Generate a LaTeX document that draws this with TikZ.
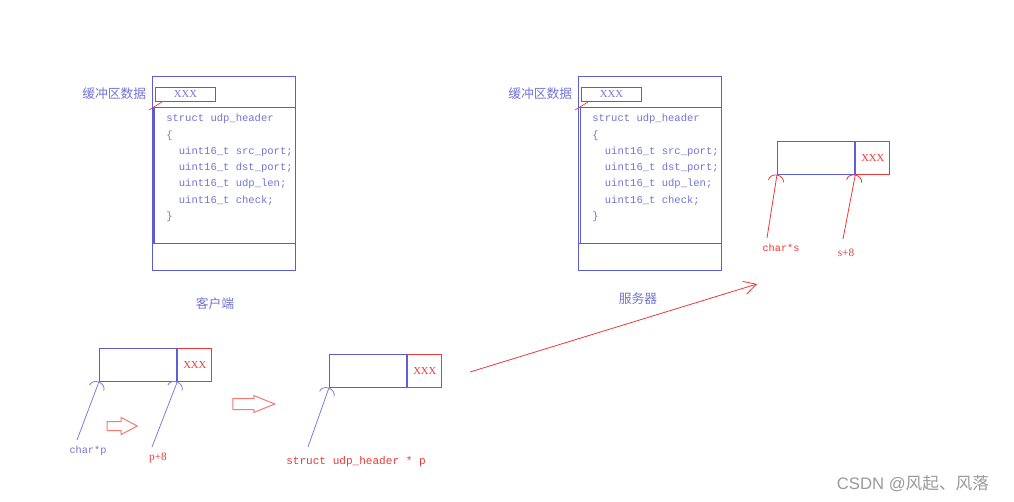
\documentclass[tikz,border=0pt]{standalone}
\usepackage{fontspec}
\setmainfont{Liberation Serif}
\setmonofont{Liberation Mono}
\newfontfamily\cjk{Noto Sans CJK SC}
\newfontfamily\wmfont{Liberation Sans}
\usetikzlibrary{arrows.meta, positioning, shapes.arrows}
\definecolor{penblue}{HTML}{5C5CD6}
\definecolor{inkblue}{HTML}{7474D4}
\definecolor{penred}{HTML}{F03838}
\definecolor{softred}{HTML}{F87878}
\definecolor{wmgray}{HTML}{9A9A9A}

\tikzset{
  frame/.style={draw=penblue, line width=0.75pt},
  tagbox/.style={draw=penblue, line width=0.75pt, minimum width=45pt, minimum height=10.5pt, inner sep=0pt, text=inkblue, font=\fontsize{8}{9}\selectfont},
  cnlabel/.style={text=inkblue, font=\fontsize{9.6}{11}\selectfont\cjk},
  codetext/.style={text=inkblue, align=left, inner sep=0pt, font=\fontsize{7.9}{12.2}\selectfont\ttfamily},
  bodycell/.style={draw=penblue, line width=0.75pt, minimum width=58pt, minimum height=24.5pt, inner sep=0pt},
  datacell/.style={draw=penred, line width=0.75pt, minimum width=25.5pt, minimum height=24.5pt, inner sep=0pt, text=penred, font=\fontsize{8}{9}\selectfont},
  ptrblue/.style={penblue!80, line width=0.6pt, -{Arc Barb[length=5pt, width=12pt]}},
  ptrred/.style={penred, line width=0.6pt, -{Arc Barb[length=5pt, width=12pt]}},
  hollowarrow/.style={single arrow, draw=softred, line width=0.75pt, inner xsep=0pt},
}

\begin{document}
\begin{tikzpicture}[x=0.75pt, y=-0.75pt]

% Background
\fill[white] (0,0) rectangle (1014,502);
\useasboundingbox (0,0) rectangle (1014,502);

% --- Client buffer ---
\draw[frame] (152,77) rectangle (295,271);
\draw[frame] (152,108) -- (295,108);
\draw[frame] (152,244) -- (295,244);
\draw[penblue, line width=1.6pt] (153.5,108) -- (153.5,244);
\node[tagbox, anchor=north west] (ctag) at (155,87) {XXX};
\node[cnlabel, anchor=east] (clbl) at (151,94) {缓冲区数据};
\draw[penred, line width=0.5pt] (ctag.south west) ++(7,0) -- ++(-13,8);
\node[codetext, anchor=north west] (ccode) at (166,114) {struct udp\_header\\\{\\~~uint16\_t src\_port;\\~~uint16\_t dst\_port;\\~~uint16\_t udp\_len;\\~~uint16\_t check;\\\}};
\node[cnlabel] (cside) at (215,304) {客户端};

% --- Server buffer ---
\draw[frame] (578,77) rectangle (721,271);
\draw[frame] (578,108) -- (721,108);
\draw[frame] (578,244) -- (721,244);
\draw[frame] (580,108) -- (580,244);
\node[tagbox, anchor=north west] (stag) at (581,87) {XXX};
\node[cnlabel, anchor=east] (slbl) at (577,94) {缓冲区数据};
\draw[penred, line width=0.5pt] (stag.south west) ++(7,0) -- ++(-13,8);
\node[codetext, anchor=north west] (scode) at (592,114) {struct udp\_header\\\{\\~~uint16\_t src\_port;\\~~uint16\_t dst\_port;\\~~uint16\_t udp\_len;\\~~uint16\_t check;\\\}};
\node[cnlabel] (sside) at (638,299) {服务器};

% --- char* view ---
\node[bodycell, anchor=north west] (pbody) at (99,348) {};
\node[datacell, anchor=west] (pcell) at (pbody.east) {XXX};
\node[text=inkblue, font=\fontsize{7.7}{9}\selectfont\ttfamily] (lcharp) at (88,451) {char*p};
\node[text=penred, font=\fontsize{8.5}{10}\selectfont] (lpplus) at (158,458) {p+8};
\coordinate (tcharp) at (77,440);
\coordinate (tpplus) at (152,447);
\draw[ptrblue] (tcharp) -- (pbody.south west);
\draw[ptrblue] (tpplus) -- (pcell.south west);
\node[hollowarrow, minimum height=22.5pt, inner ysep=3pt, single arrow head extend=3pt, single arrow tip angle=56] (step1) at (118,426) {};

% --- struct header view ---
\node[hollowarrow, minimum height=31.5pt, inner ysep=3.75pt, single arrow head extend=2.25pt, single arrow tip angle=44] (step2) at (247,404) {};
\node[bodycell, anchor=north west] (hbody) at (329,354) {};
\node[datacell, anchor=west] (hcell) at (hbody.east) {XXX};
\node[text=penred, font=\fontsize{8.3}{10}\selectfont\ttfamily] (lhdr) at (356,462) {struct udp\_header * p};
\coordinate (thdr) at (308,447);
\draw[ptrblue] (thdr) -- (hbody.south west);

% --- send to server ---
\coordinate (sendA) at (470,372);
\coordinate (sendB) at (757,284);
\draw[penred, line width=0.6pt, -{Straight Barb[length=9pt, width=10pt]}] (sendA) -- (sendB);

% --- server side view ---
\node[bodycell, anchor=north west] (sbody) at (777,141) {};
\node[datacell, anchor=west] (scell) at (sbody.east) {XXX};
\node[text=penred, font=\fontsize{7.7}{9}\selectfont\ttfamily] (lchars) at (781,248) {char*s};
\node[text=penred, font=\fontsize{8.5}{10}\selectfont] (lsplus) at (846,253) {s+8};
\coordinate (tchars) at (767,238);
\coordinate (tsplus) at (843,239);
\draw[ptrred] (tchars) -- (sbody.south west);
\draw[ptrred] (tsplus) -- (scell.south west);

% Watermark
\node[text=wmgray, font=\fontsize{12.5}{14}\selectfont] (wmark) at (913,484) {\wmfont CSDN @\cjk 风起、风落};

\end{tikzpicture}
\end{document}
